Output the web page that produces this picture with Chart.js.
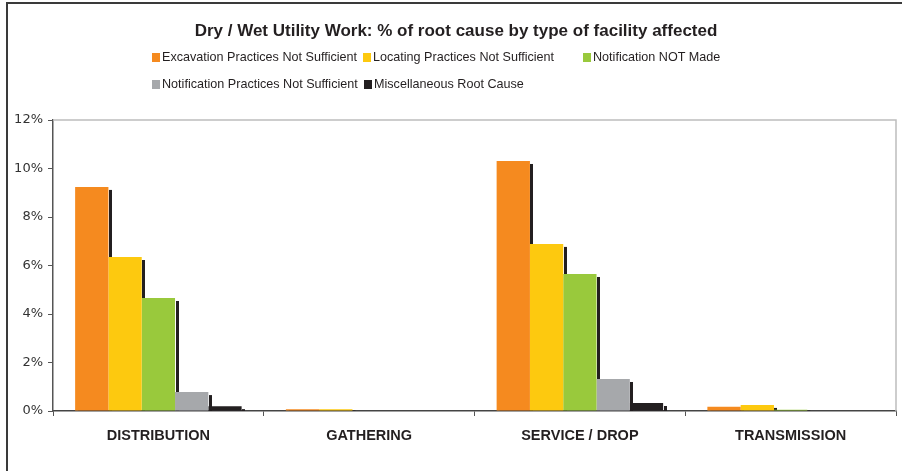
<!DOCTYPE html>
<html>
<head>
<meta charset="utf-8">
<script src="https://cdn.jsdelivr.net/npm/chart.js@4"></script>
<style>
  body { margin: 0; background: #fff; }
  #wrap { position: relative; width: 902px; height: 471px; overflow: hidden; }
  #frame { position: absolute; left: 6px; top: 2px; width: 920px; height: 500px; border: 2px solid #3a3a3a; box-sizing: border-box; }
  #title { position: absolute; left: 0; width: 912px; top: 21px; text-align: center;
           font: bold 17px "Liberation Sans", Arial, sans-serif; color: #231f20; }
  .leg { position: absolute; font: 12.6px "Liberation Sans", Arial, sans-serif; color: #231f20; white-space: nowrap; }
  .leg i { display: inline-block; width: 8px; height: 9px; margin-right: 2px; vertical-align: -1px; }
</style>
</head>
<body>
<div id="wrap">
  <canvas id="chart" width="902" height="471"></canvas>
  <div id="frame"></div>
  <div id="title">Dry / Wet Utility Work: % of root cause by type of facility affected</div>
  <div id="legend"></div>
</div>
<script>
const facilities = ['DISTRIBUTION', 'GATHERING', 'SERVICE / DROP', 'TRANSMISSION'];

const excavation = [9.24, 0.07, 10.31, 0.18];
const locating = [6.35, 0.07, 6.89, 0.25];
const notMade = [4.66, 0, 5.65, 0.05];
const notificationPractices = [0.78, 0, 1.32, 0];
const misc = [0.2, 0, 0.33, 0];

const seriesNames = [
    'Excavation Practices Not Sufficient',
    'Locating Practices Not Sufficient',
    'Notification NOT Made',
    'Notification Practices Not Sufficient',
    'Miscellaneous Root Cause',
];
const seriesValues = [excavation, locating, notMade, notificationPractices, misc];
const colors = ['#f58a1f', '#fdc90f', '#99c93c', '#a6a8ab', '#231f20'];

const yTicks = [0, 2, 4, 6, 8, 10, 12];

// black strip to the right of every bar, drawn before any bar so neighbours cover it
const barShadow = {
    id: 'barShadow',
    beforeDatasetsDraw(chart) {
        const { ctx, chartArea: a } = chart;
        ctx.save();
        ctx.beginPath();
        ctx.rect(a.left, a.top, a.right - a.left, a.bottom - a.top);
        ctx.clip();
        ctx.fillStyle = '#231f20';
        chart.data.datasets.forEach((ds, i) => {
            chart.getDatasetMeta(i).data.forEach(bar => {
                const { x, y, base, width } = bar.getProps(['x', 'y', 'base', 'width'], true);
                if (base - y < 0.5) return;
                const right = Math.ceil(x + width / 2);
                ctx.fillRect(right, y + 3, 3, base - y);
                ctx.fillRect(x - width / 2 + 3, base, width, 3);
            });
        });
        ctx.restore();
    },
};

// light grey top and right edge of the plot area
const plotEdge = {
    id: 'plotEdge',
    beforeDatasetsDraw(chart) {
        const { ctx, chartArea: a } = chart;
        ctx.save();
        ctx.strokeStyle = '#bdbdbd';
        ctx.lineWidth = 1.5;
        ctx.beginPath();
        ctx.moveTo(a.left, a.top);
        ctx.lineTo(a.right, a.top);
        ctx.lineTo(a.right, a.bottom);
        ctx.stroke();
        ctx.restore();
    },
};

const ctx = document.getElementById('chart').getContext('2d');
const chart = new Chart(ctx, {
    type: 'bar',
    data: {
        labels: facilities,
        datasets: seriesNames.map((name, i) => ({
            label: name,
            data: seriesValues[i],
            backgroundColor: colors[i],
            borderWidth: 0,
            categoryPercentage: 0.79,
            barPercentage: 1.0,
        })),
    },
    options: {
        responsive: false,
        animation: false,
        layout: { padding: { top: 120, right: 6, left: 0, bottom: 0 } },
        plugins: {
            legend: { display: false },
            title: { display: false },
            tooltip: { enabled: false },
        },
        scales: {
            x: {
                grid: { display: true, drawOnChartArea: false, offset: true, tickLength: 5, color: '#555' },
                border: { color: '#444', width: 1.5 },
                ticks: {
                    color: '#231f20',
                    padding: 11,
                    font: { family: 'Liberation Sans', size: 14.5, weight: 'bold' },
                },
                afterFit(s) { s.height = 60; },
            },
            y: {
                min: 0,
                max: 12,
                afterBuildTicks(s) { s.ticks = yTicks.map(v => ({ value: v })); },
                grid: { display: true, drawOnChartArea: false, tickLength: 5, color: '#555' },
                border: { color: '#555', width: 1.5 },
                ticks: {
                    color: '#333',
                    padding: 5,
                    font: { family: 'DejaVu Sans', size: 13 },
                    callback: v => v + '%',
                },
                afterFit(s) { s.width = 53; },
            },
        },
    },
    plugins: [plotEdge, barShadow],
});

// legend laid out in two rows, three columns
const legendPos = [[152, 50], [363, 50], [583, 50], [152, 77], [364, 77]];
const legendEl = document.getElementById('legend');
chart.data.datasets.forEach((ds, i) => {
    const item = document.createElement('div');
    item.className = 'leg';
    item.style.left = legendPos[i][0] + 'px';
    item.style.top = legendPos[i][1] + 'px';
    item.innerHTML = '<i style="background:' + ds.backgroundColor + '"></i>' + ds.label;
    legendEl.appendChild(item);
});
</script>
</body>
</html>
